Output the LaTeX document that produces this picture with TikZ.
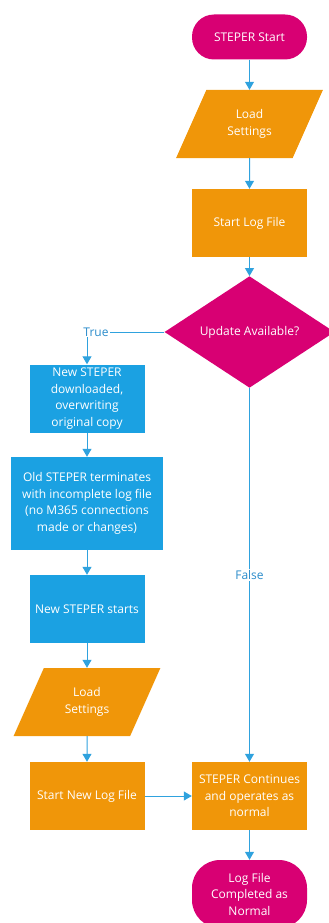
\documentclass[tikz,border=0pt]{standalone}
\usepackage{fontspec}
\setmainfont{Open Sans}
\usetikzlibrary{shapes.geometric, arrows.meta}
\definecolor{stmagenta}{HTML}{D80073}
\definecolor{storange}{HTML}{F09609}
\definecolor{stblue}{HTML}{1BA1E2}
\definecolor{stline}{HTML}{2FA2DE}
\definecolor{stlabel}{HTML}{2B8CCB}
\tikzstyle{startstop} = [rectangle, rounded corners=22pt,
minimum width=115pt,
minimum height=45pt,
align=center,
text=white,
fill=stmagenta]
\tikzstyle{io} = [trapezium,
trapezium stretches=true,
trapezium left angle=63,
trapezium right angle=117,
minimum width=148pt,
minimum height=68pt, align=center,
text=white, fill=storange]
\tikzstyle{process} = [rectangle,
minimum width=115pt,
minimum height=68pt,
align=center,
text=white,
fill=storange]
\tikzstyle{update} = [process, fill=stblue]
\tikzstyle{decision} = [diamond,
minimum width=170pt,
minimum height=105pt,
inner sep=0pt,
align=center,
text=white,
fill=stmagenta]
\tikzstyle{arrow} = [draw=stline, line width=1pt, ->, >={Triangle[width=9pt,length=8pt]}]
\tikzstyle{branch} = [fill=white, text=stlabel, inner sep=1pt]

\begin{document}
\begin{tikzpicture}[font=\fontsize{12pt}{16.5pt}\selectfont]
\useasboundingbox (0,0) rectangle (329pt,-923pt);

\node (start) [startstop] at (249.5pt,-37pt) {STEPER Start};
\node (load) [io, below of=start, node distance=87pt] {Load\\Settings};
\node (logfile) [process, below of=load, node distance=99pt] {Start Log File};
\node (avail) [decision, below of=logfile, node distance=109pt] {Update Available?};

\node (newdl) [update] at (87pt,-398.5pt) {New STEPER\\downloaded,\\overwriting\\original copy};
\node (oldterm) [update, minimum width=152pt, minimum height=93pt, below of=newdl, node distance=105pt] {Old STEPER terminates\\with incomplete log file\\(no M365 connections\\made or changes)};
\node (newstart) [update, below of=oldterm, node distance=105.5pt] {New STEPER starts};
\node (load2) [io, below of=newstart, node distance=93pt] {Load\\Settings};
\node (newlog) [process, below of=load2, node distance=94pt] {Start New Log File};

\node (cont) [process, below of=avail, node distance=464pt] {STEPER Continues\\and operates as\\normal};
\node (done) [startstop, rounded corners=28pt, minimum height=68pt, below of=cont, node distance=98pt] {Log File\\Completed as\\Normal};

\draw [arrow] (start) -- (load);
\draw [arrow] (load) -- (logfile);
\draw [arrow] (logfile) -- (avail);
\draw [arrow] (avail.west) -| node[branch, pos=0.5, xshift=9pt] {True} (newdl);
\draw [arrow] (newdl) -- (oldterm);
\draw [arrow] (oldterm) -- (newstart);
\draw [arrow] (newstart) -- (load2);
\draw [arrow] (load2) -- (newlog);
\draw [arrow] (avail) -- node[branch] {False} (cont);
\draw [arrow] (newlog) -- (cont);
\draw [arrow] (cont) -- (done);

\end{tikzpicture}
\end{document}
